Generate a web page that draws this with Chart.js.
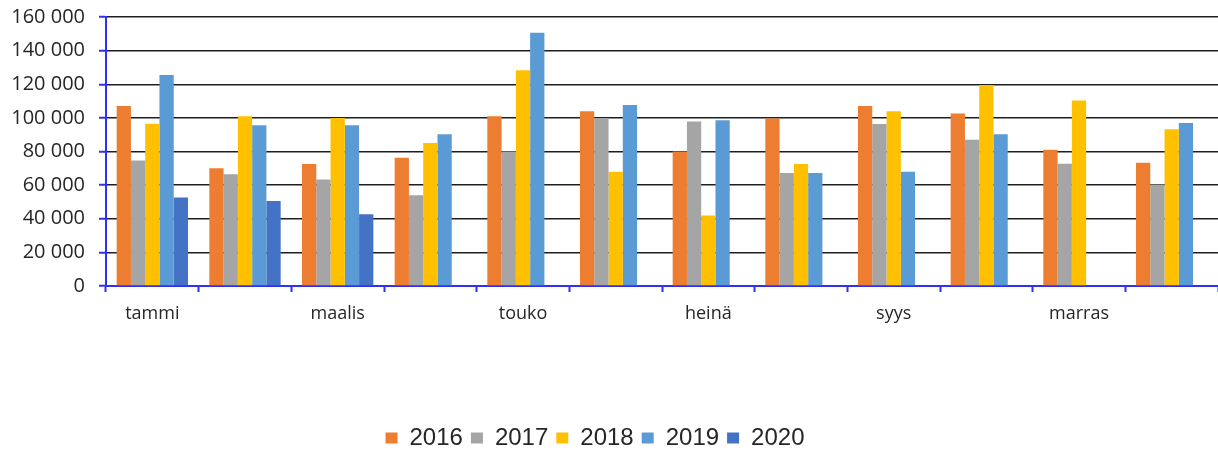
<!DOCTYPE html>
<html lang="fi">
<head>
<meta charset="utf-8">
<title>Kuukausittaiset määrät 2016–2020</title>
<script src="https://cdn.jsdelivr.net/npm/chart.js@4/dist/chart.umd.min.js"></script>
<style>
  html, body { margin: 0; padding: 0; background: #ffffff; }
  #wrap { position: relative; width: 1218px; height: 450px; }
</style>
</head>
<body>
<div id="wrap"><canvas id="chart"></canvas></div>
<script>
// Kuukaudet
const months = ['tammi', 'helmi', 'maalis', 'huhti', 'touko', 'kesä',
                'heinä', 'elo', 'syys', 'loka', 'marras', 'joulu'];

// Sarjat vuosittain
const v2016 = [107000, 70000, 72500, 76300, 101000, 104000, 80000, 99600, 107100, 102600, 81000, 73300];
const v2017 = [74700, 66500, 63400, 54000, 80000, 100000, 97800, 67200, 96400, 87000, 72700, 60400];
const v2018 = [96500, 101000, 100000, 85000, 128400, 68000, 42000, 72500, 104000, 119500, 110300, 93200];
const v2019 = [125500, 95600, 95600, 90200, 150600, 107700, 98600, 67200, 68000, 90200, null, 97000];
const v2020 = [52700, 50500, 42700, null, null, null, null, null, null, null, null, null];

// Y-akselin asteikko
const yMin = 0;
const yMax = 160000;
const yStep = 20000;

const seriesNames = ['2016', '2017', '2018', '2019', '2020'];
const seriesValues = [v2016, v2017, v2018, v2019, v2020];
const seriesColors = ['#ED7D31', '#A5A5A5', '#FFC000', '#5B9BD5', '#4472C4'];

function groupThousands(v) {
  return String(Math.round(v)).replace(/\B(?=(\d{3})+(?!\d))/g, ' ');
}

// Siirtää selitteen hieman vasemmalle ja alas
const legendNudge = {
  id: 'legendNudge',
  afterLayout(chart) {
    const lg = chart.legend;
    if (!lg) return;
    lg.left -= 14; lg.right -= 14;
    lg.top += 10; lg.bottom += 10;
  }
};

const axisBlue = '#2f2ff5';
const textColor = '#262626';

new Chart(document.getElementById('chart'), {
  type: 'bar',
  data: {
    labels: months,
    datasets: seriesNames.map((name, i) => ({
      label: name,
      data: seriesValues[i],
      backgroundColor: seriesColors[i],
      borderWidth: 0,
      categoryPercentage: 0.77,
      barPercentage: 1.0
    }))
  },
  options: {
    responsive: true,
    maintainAspectRatio: false,
    animation: false,
    layout: { padding: { left: 0, right: 0, top: 17, bottom: 0 } },
    plugins: {
      tooltip: { enabled: false },
      legend: {
        position: 'bottom',
        labels: {
          boxWidth: 12,
          boxHeight: 11,
          padding: 8,
          color: textColor,
          font: { family: '"Liberation Sans", Arial, sans-serif', size: 24 }
        }
      }
    },
    scales: {
      x: {
        grid: {
          offset: true,
          drawOnChartArea: false,
          drawTicks: true,
          tickLength: 6,
          tickColor: axisBlue,
          tickWidth: 2
        },
        border: { display: true, color: axisBlue, width: 2 },
        ticks: {
          autoSkip: false,
          maxRotation: 0,
          padding: 11,
          color: textColor,
          font: { family: '"Open Sans", sans-serif', size: 18 },
          callback: function (value, index) {
            return index % 2 === 0 ? this.getLabelForValue(value) : '';
          }
        },
        afterFit(scale) { scale.height = 122; }
      },
      y: {
        min: yMin,
        max: yMax,
        grid: {
          color: '#1e1e1e',
          lineWidth: 1.5,
          drawTicks: true,
          tickLength: 7,
          tickColor: axisBlue,
          tickWidth: 2
        },
        border: { display: true, color: axisBlue, width: 2 },
        ticks: {
          stepSize: yStep,
          padding: 14,
          color: textColor,
          font: { family: '"Open Sans", sans-serif', size: 20 },
          callback: (v) => groupThousands(v)
        },
        afterFit(scale) {
          scale.width = 106;
          // the plot top is set by layout.padding.top alone
          scale.paddingTop = 0;
          scale.paddingBottom = 0;
        }
      }
    }
  },
  plugins: [legendNudge]
});
</script>
</body>
</html>
